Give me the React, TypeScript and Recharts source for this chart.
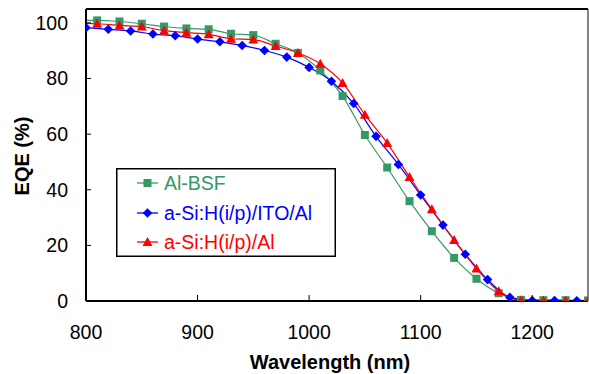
import React from 'react';
import { LineChart, Line, XAxis, YAxis, Legend, ReferenceLine, Label } from 'recharts';

const xTicks = [800, 900, 1000, 1100, 1200];
const yTicks = [0, 20, 40, 60, 80, 100];

const greenX = [800, 810, 830, 850, 870, 890, 910, 930, 950, 970, 990, 1010, 1030, 1050, 1070, 1090, 1110, 1130, 1150, 1170, 1190, 1210, 1230, 1250];
const greenY = [100.9, 100.9, 100.5, 99.7, 98.7, 98.0, 97.7, 96.1, 95.6, 92.5, 89.2, 82.9, 73.7, 59.7, 48.0, 35.9, 25.1, 15.5, 8.0, 2.8, 0.4, 0.3, 0.3, 0.2];
const greenMarker = [false, true, true, true, true, true, true, true, true, true, true, true, true, true, true, true, true, true, true, true, true, true, true, true];

const blueX = [800, 820, 840, 860, 880, 900, 920, 940, 960, 980, 1000, 1020, 1040, 1060, 1080, 1100, 1120, 1140, 1160, 1180, 1200, 1220, 1240, 1250];
const blueY = [98.3, 97.7, 97.1, 96.0, 95.4, 94.2, 93.2, 91.9, 90.1, 87.7, 84.0, 79.0, 71.0, 59.2, 49.1, 38.1, 27.3, 16.8, 7.7, 1.3, 0.2, 0.2, 0.1, 0.1];
const blueMarker = [true, true, true, true, true, true, true, true, true, true, true, true, true, true, true, true, true, true, true, true, true, true, true, false];

const redX = [800, 810, 830, 850, 870, 890, 910, 930, 950, 970, 990, 1010, 1030, 1050, 1070, 1090, 1110, 1130, 1150, 1170, 1190, 1210, 1230, 1250];
const redY = [99.8, 99.7, 99.1, 98.7, 97.2, 96.5, 95.9, 94.3, 94.0, 91.7, 89.2, 85.3, 78.4, 67.0, 56.8, 44.6, 33.0, 21.9, 11.7, 3.5, 0.3, 0.2, 0.1, 0.1];
const redMarker = greenMarker;

const seriesNames = ['Al-BSF', 'a-Si:H(i/p)/ITO/Al', 'a-Si:H(i/p)/Al'];
const GREEN = '#339966';
const BLUE = '#0000FF';
const RED = '#FF0000';
const FONT = '"Liberation Sans", Arial, sans-serif';

const build = (xs: number[], ys: number[], ms: boolean[]) => xs.map((x, i) => ({ x, y: ys[i], m: ms[i] }));
const greenData = build(greenX, greenY, greenMarker);
const blueData = build(blueX, blueY, blueMarker);
const redData = build(redX, redY, redMarker);

const squareDot = (props: any) => {
  const { cx, cy, payload, index } = props;
  if (!payload.m || cx == null) return <g key={`gs-${index}`} />;
  return <rect key={`gs-${index}`} x={cx - 4} y={cy - 4} width={8} height={8} fill={GREEN} />;
};
const diamondDot = (props: any) => {
  const { cx, cy, payload, index } = props;
  if (!payload.m || cx == null) return <g key={`bd-${index}`} />;
  const r = 4.8;
  return <polygon key={`bd-${index}`} points={`${cx},${cy - r} ${cx + r},${cy} ${cx},${cy + r} ${cx - r},${cy}`} fill={BLUE} />;
};
const triDot = (props: any) => {
  const { cx, cy, payload, index } = props;
  if (!payload.m || cx == null) return <g key={`rt-${index}`} />;
  return <polygon key={`rt-${index}`} points={`${cx},${cy - 5} ${cx + 5},${cy + 4} ${cx - 5},${cy + 4}`} fill={RED} />;
};

const YTick = (props: any) => {
  const { x, y, payload } = props;
  return (
    <g>
      <line x1={x + 18} x2={x + 23} y1={y} y2={y} stroke="#000" strokeWidth={1} />
      <text x={x} y={y} dy="0.35em" textAnchor="end" fontSize={19.5} fontFamily={FONT} fill="#000">{payload.value}</text>
    </g>
  );
};
const XTick = (props: any) => {
  const { x, y, payload } = props;
  return (
    <g>
      <line x1={x} x2={x} y1={y - 24} y2={y - 30} stroke="#000" strokeWidth={1} />
      <text x={x} y={y} dy="0.71em" textAnchor="middle" fontSize={19.5} fontFamily={FONT} fill="#000">{payload.value}</text>
    </g>
  );
};

const LegendBox = () => {
  const rows = [
    { name: seriesNames[0], color: GREEN, y: 15, shape: 'square' },
    { name: seriesNames[1], color: BLUE, y: 45, shape: 'diamond' },
    { name: seriesNames[2], color: RED, y: 74, shape: 'tri' },
  ];
  return (
    <svg width={220} height={89} style={{ display: 'block' }}>
      <rect x={0.75} y={0.75} width={218.5} height={87.5} fill="#fff" stroke="#000" strokeWidth={1.5} />
      {rows.map((r) => (
        <g key={r.name}>
          <line x1={21} x2={42} y1={r.y} y2={r.y} stroke={r.color} strokeWidth={1.3} />
          {r.shape === 'square' && <rect x={27.5} y={r.y - 4} width={8} height={8} fill={r.color} />}
          {r.shape === 'diamond' && <polygon points={`31.5,${r.y - 4.8} 36.3,${r.y} 31.5,${r.y + 4.8} 26.7,${r.y}`} fill={r.color} />}
          {r.shape === 'tri' && <polygon points={`31.5,${r.y - 5} 36.5,${r.y + 4} 26.5,${r.y + 4}`} fill={r.color} />}
          <text x={48} y={r.y} dy="0.35em" fontSize={19.5} fontFamily={FONT} fill={r.color}>{r.name}</text>
        </g>
      ))}
    </svg>
  );
};

export default function App() {
  return (
    <div style={{ position: 'absolute', left: 0, top: 0, width: 589, height: 374, background: '#fff' }}>
      <LineChart width={589} height={374} margin={{ top: 9, right: 1, left: 0, bottom: 0 }}>
        <XAxis
          type="number"
          dataKey="x"
          domain={[800, 1250]}
          ticks={xTicks}
          allowDataOverflow
          height={73}
          tickSize={0}
          tickMargin={24}
          tickLine={false}
          tick={<XTick />}
          axisLine={{ stroke: '#000', strokeWidth: 2 }}
        >
          <Label
            content={() => (
              <text x={330} y={369} textAnchor="middle" fontSize={20} fontWeight="bold" fontFamily={FONT} fill="#000">
                Wavelength (nm)
              </text>
            )}
          />
        </XAxis>
        <YAxis
          type="number"
          domain={[0, 105]}
          ticks={yTicks}
          allowDataOverflow
          width={86}
          tickSize={0}
          tickMargin={18}
          tickLine={false}
          tick={<YTick />}
          axisLine={{ stroke: '#000', strokeWidth: 2 }}
        >
          <Label
            content={() => (
              <text transform="translate(22,156) rotate(-90)" x={0} y={0} dy="0.35em" textAnchor="middle" fontSize={20} fontWeight="bold" fontFamily={FONT} fill="#000">
                EQE (%)
              </text>
            )}
          />
        </YAxis>
        <ReferenceLine y={105} stroke="#000" strokeWidth={2} ifOverflow="visible" />
        <ReferenceLine x={1250} stroke="#333" strokeWidth={1.2} ifOverflow="visible" />
        <Line data={greenData} dataKey="y" type="monotone" stroke={GREEN} strokeWidth={1.2} dot={squareDot} activeDot={false} isAnimationActive={false} name={seriesNames[0]} />
        <Line data={blueData} dataKey="y" type="monotone" stroke={BLUE} strokeWidth={1.2} dot={diamondDot} activeDot={false} isAnimationActive={false} name={seriesNames[1]} />
        <Line data={redData} dataKey="y" type="monotone" stroke={RED} strokeWidth={1.2} dot={triDot} activeDot={false} isAnimationActive={false} name={seriesNames[2]} />
        <Legend
          layout="vertical"
          align="center"
          verticalAlign="middle"
          content={<LegendBox />}
          wrapperStyle={{ position: 'absolute', left: 116, top: 168, width: 220, height: 89 }}
        />
      </LineChart>
    </div>
  );
}
